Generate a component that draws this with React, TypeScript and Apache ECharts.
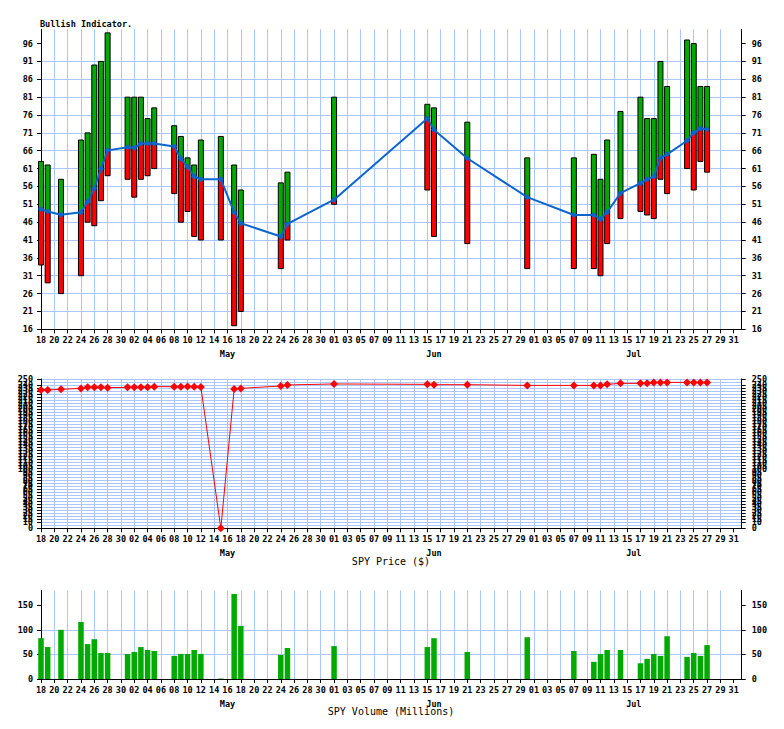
import React, { useEffect, useRef } from 'react';
import * as echarts from 'echarts';

// ---------- data ----------
const DATES = [
  '2023-04-18', '2023-04-19', '2023-04-21', '2023-04-24', '2023-04-25', '2023-04-26', '2023-04-27', '2023-04-28',
  '2023-05-01', '2023-05-02', '2023-05-03', '2023-05-04', '2023-05-05', '2023-05-08', '2023-05-09', '2023-05-10',
  '2023-05-11', '2023-05-12', '2023-05-15', '2023-05-17', '2023-05-18', '2023-05-24', '2023-05-25', '2023-06-01',
  '2023-06-15', '2023-06-16', '2023-06-21', '2023-06-30', '2023-07-07', '2023-07-10', '2023-07-11', '2023-07-12',
  '2023-07-14', '2023-07-17', '2023-07-18', '2023-07-19', '2023-07-20', '2023-07-21', '2023-07-24', '2023-07-25',
  '2023-07-26', '2023-07-27',
];
const BULL_HIGH = [63, 62, 58, 69, 71, 90, 91, 99, 81, 81, 81, 75, 78, 73, 70, 64, 62, 69, 70, 62, 55, 57, 60, 81,
  79, 78, 74, 64, 64, 65, 58, 69, 77, 81, 75, 75, 91, 84, 97, 96, 84, 84];
const BULL_LOW = [34, 29, 26, 31, 46, 45, 52, 59, 58, 53, 58, 59, 61, 54, 46, 49, 42, 41, 41, 17, 21, 33, 41, 51,
  55, 42, 40, 33, 33, 33, 31, 40, 47, 49, 48, 47, 58, 54, 61, 55, 63, 60];
const BULL_LINE = [49.7, 49, 48.1, 48.8, 51.8, 55.5, 60.9, 66.1, 67, 66.8, 68, 68, 68, 67.2, 63.8, 61.5, 58.8, 58, 58,
  48.8, 45.7, 42, 45.5, 52.3, 75, 71.9, 63.9, 53, 48, 48, 46.8, 48.8, 54.1, 56.9, 58, 58.8, 63.9, 65, 68.8, 71.1, 72.2, 72];
const SPY_PRICE = [231.7, 231.7, 232.7, 234.3, 236, 236, 236, 235.5, 236, 236, 236, 236, 237.2, 237.2, 237.2, 237.5,
  237.2, 236.8, 0, 233.3, 234.3, 238.3, 240, 241.7, 241, 240.5, 240.5, 239.3, 239.3, 239.3, 239, 241, 242.7, 242.7,
  242.7, 244.3, 244.3, 244.3, 244.3, 244.3, 244.3, 244.3];
const SPY_VOLUME = [83, 65, 100, 116, 71, 81, 53, 53, 51, 55, 65, 59, 57, 47, 51, 51, 59, 51, 1, 173, 108, 49, 63, 67,
  65, 83, 55, 85, 57, 35, 51, 59, 59, 32, 41, 51, 47, 87, 45, 53, 47, 69];

const AXIS_START = '2023-04-18';
const AXIS_LAST_TICK = '2023-07-31';
const MONTH_NAMES = ['May', 'Jun', 'Jul'];
const MONTH_LABEL_DATES = ['2023-05-16', '2023-06-16', '2023-07-16'];

const TITLE_TOP = 'Bullish Indicator.';
const TITLE_PRICE = 'SPY Price ($)';
const TITLE_VOLUME = 'SPY Volume (Millions)';

// ---------- helpers ----------
const DAY_MS = 86400000;
const START_MS = Date.parse(AXIS_START + 'T00:00:00Z');
const dayOf = (s: string) => Math.round((Date.parse(s + 'T00:00:00Z') - START_MS) / DAY_MS);
const LAST_DAY = dayOf(AXIS_LAST_TICK);
const X_MAX = LAST_DAY + 1.2;
const MONTH_DAYS = MONTH_LABEL_DATES.map(dayOf);
const X = DATES.map(dayOf);

const GRID_COLOR = '#aac8ff';
const GREEN = '#00aa00';
const RED = '#ff0000';
const BLUE = '#0a66cc';
const FONT = 'DejaVu Sans Mono';
const FS = 8.5;

const dayLabel = (v: number) => {
  const r = Math.round(v);
  if (Math.abs(v - r) > 1e-6 || r > LAST_DAY || r % 2 !== 0) return '';
  const d = new Date(START_MS + r * DAY_MS);
  return String(d.getUTCDate()).padStart(2, '0');
};
const monthLabel = (v: number) => {
  const i = MONTH_DAYS.findIndex((m) => Math.abs(m - v) < 1e-6);
  return i >= 0 ? MONTH_NAMES[i] : '';
};

const evenDays: number[] = [];
for (let d = 0; d <= LAST_DAY; d += 2) evenDays.push(d);

const labelStyle = { fontFamily: FONT, fontSize: FS, color: '#000', fontWeight: 'bold' as const };

function dayAxis(gi: number) {
  return {
    type: 'value', gridIndex: gi, min: 0, max: X_MAX, interval: 2,
    axisLine: { show: true, onZero: false, lineStyle: { color: '#000', width: 1 } },
    axisTick: { show: true, length: 4, lineStyle: { color: '#000' }, customValues: evenDays },
    axisLabel: { ...labelStyle, margin: 6, formatter: dayLabel, showMaxLabel: true, showMinLabel: true, customValues: evenDays },
    splitLine: { show: true, showMaxLine: false, lineStyle: { color: GRID_COLOR, width: 1 } },
  };
}
function monthAxis(gi: number) {
  return {
    type: 'value', gridIndex: gi, min: 0, max: X_MAX, interval: 1, position: 'bottom',
    axisLine: { show: false, onZero: false }, axisTick: { show: false }, splitLine: { show: false },
    axisLabel: { ...labelStyle, margin: 20, formatter: monthLabel, showMaxLabel: false, showMinLabel: false },
  };
}
function yAxes(gi: number, min: number, max: number, interval: number) {
  const ticks: number[] = [];
  for (let v = min; v <= max + 1e-9; v += interval) ticks.push(v);
  const lastIsMax = Math.abs(max - ticks[ticks.length - 1]) < 1e-9;
  const base = {
    type: 'value', gridIndex: gi, min, max, interval,
    axisLine: { show: true, onZero: false, lineStyle: { color: '#000', width: 1 } },
    axisTick: { show: true, length: 4, lineStyle: { color: '#000' }, customValues: ticks },
  };
  return [
    {
      ...base, position: 'left',
      axisLabel: { ...labelStyle, margin: 8, showMaxLabel: true, showMinLabel: true, customValues: ticks },
      splitLine: { show: true, showMaxLine: lastIsMax, lineStyle: { color: GRID_COLOR, width: 1 } },
    },
    {
      ...base, position: 'right',
      axisLabel: { ...labelStyle, margin: 10, showMaxLabel: true, showMinLabel: true, customValues: ticks },
      splitLine: { show: false },
    },
  ];
}

export default function App() {
  const ref = useRef<HTMLDivElement>(null);
  useEffect(() => {
    if (!ref.current) return;
    const chart = echarts.init(ref.current, null, { renderer: 'svg' });
    const left = 41;
    const width = 700.7;
    const bullData = X.map((x, i) => [x, BULL_LOW[i], BULL_LINE[i], BULL_HIGH[i]]);
    chart.setOption({
      animation: false,
      backgroundColor: '#fff',
      grid: [
        { left, width, top: 29.3, height: 300 },
        { left, width, top: 379, height: 149.3 },
        { left, width, top: 590.5, height: 88.5 },
      ],
      xAxis: [dayAxis(0), monthAxis(0), dayAxis(1), monthAxis(1), dayAxis(2), monthAxis(2)],
      yAxis: [...yAxes(0, 16, 100, 5), ...yAxes(1, 0, 250, 5), ...yAxes(2, 0, 180, 50)],
      graphic: [
        { type: 'text', x: 40, y: 24, style: { text: TITLE_TOP, font: `bold ${FS}px "${FONT}"`, fill: '#000', textVerticalAlign: 'middle' } },
        { type: 'text', x: 391, y: 561, style: { text: TITLE_PRICE, font: `10px "${FONT}"`, fill: '#000', textAlign: 'center', textVerticalAlign: 'middle' } },
        { type: 'text', x: 391, y: 711, style: { text: TITLE_VOLUME, font: `10px "${FONT}"`, fill: '#000', textAlign: 'center', textVerticalAlign: 'middle' } },
      ],
      series: [
        {
          type: 'custom', xAxisIndex: 0, yAxisIndex: 0, data: bullData,
          encode: { x: 0, y: [1, 2, 3] },
          renderItem: (_p: any, api: any) => {
            const x = api.value(0), lo = api.value(1), mid = api.value(2), hi = api.value(3);
            const pLo = api.coord([x, lo]);
            const pMid = api.coord([x, mid]);
            const pHi = api.coord([x, hi]);
            const w = 5;
            const children: any[] = [];
            if (mid > lo) children.push({ type: 'rect', shape: { x: pLo[0] - w / 2, y: pMid[1], width: w, height: pLo[1] - pMid[1] }, style: { fill: RED, stroke: '#000', lineWidth: 1 } });
            if (hi > mid) children.push({ type: 'rect', shape: { x: pHi[0] - w / 2, y: pHi[1], width: w, height: pMid[1] - pHi[1] }, style: { fill: GREEN, stroke: '#000', lineWidth: 1 } });
            return { type: 'group', children };
          },
          z: 2,
        },
        {
          type: 'line', xAxisIndex: 0, yAxisIndex: 0, data: X.map((x, i) => [x, BULL_LINE[i]]),
          lineStyle: { color: BLUE, width: 2 }, itemStyle: { color: BLUE },
          symbol: 'diamond', symbolSize: 6, showSymbol: true, z: 5,
        },
        {
          type: 'line', xAxisIndex: 2, yAxisIndex: 2, data: X.map((x, i) => [x, SPY_PRICE[i]]),
          lineStyle: { color: RED, width: 1 }, itemStyle: { color: RED },
          symbol: 'diamond', symbolSize: 8, showSymbol: true, z: 5,
        },
        {
          type: 'bar', xAxisIndex: 4, yAxisIndex: 4, data: X.map((x, i) => [x, SPY_VOLUME[i]]),
          barWidth: 5.5, itemStyle: { color: GREEN }, z: 5,
        },
      ],
    });
    return () => chart.dispose();
  }, []);
  return <div ref={ref} style={{ position: 'fixed', left: 0, top: 0, width: 784, height: 729 }} />;
}
